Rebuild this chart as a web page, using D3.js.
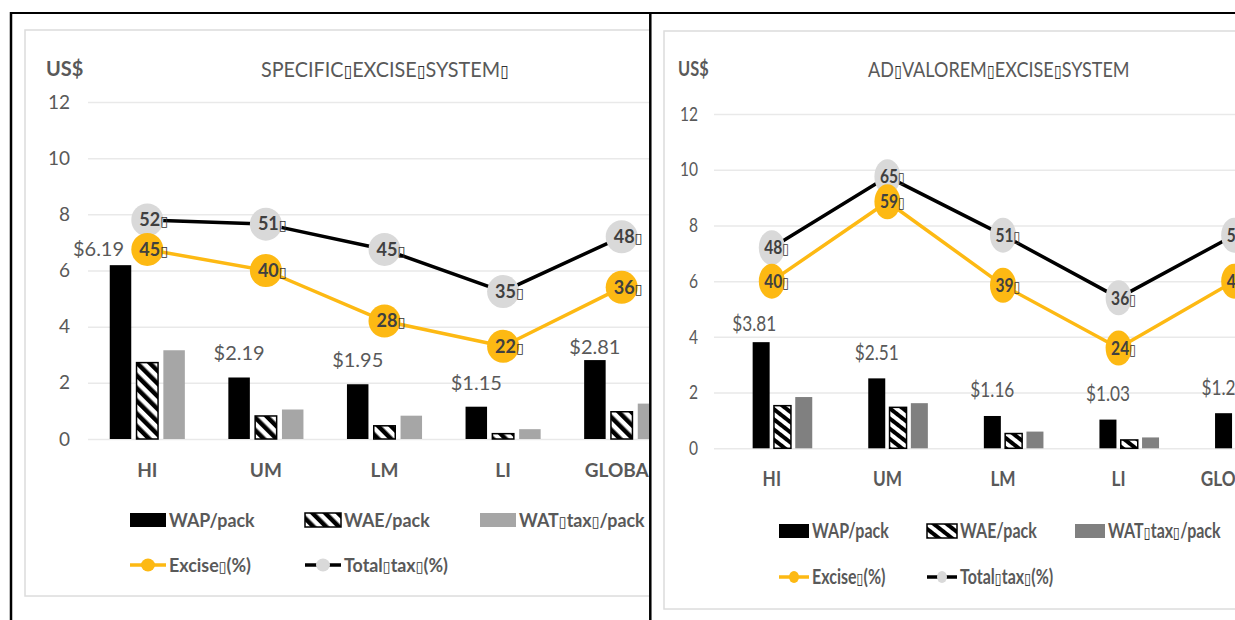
<!DOCTYPE html>
<html>
<head>
<meta charset="utf-8">
<script src="https://cdn.jsdelivr.net/npm/d3@7"></script>
<style>
  html, body { margin: 0; padding: 0; background: #fff; }
  svg { display: block; }
</style>
</head>
<body>
<script>
// ---- data ----
const categories = ["HI", "UM", "LM", "LI", "GLOBAL"];
const yTicks = [0, 2, 4, 6, 8, 10, 12];

// Specific excise system (US$ per pack, and tax shares in %)
const specificWAP = [6.19, 2.19, 1.95, 1.15, 2.81];
const specificWAE = [2.72, 0.82, 0.47, 0.19, 0.97];
const specificVAT = [3.16, 1.05, 0.83, 0.35, 1.26];
const specificExcisePct = [45, 40, 28, 22, 36];
const specificTotalPct = [52, 51, 45, 35, 48];

// Ad valorem excise system
const adValoremWAP = [3.81, 2.51, 1.16, 1.03, 1.26];
const adValoremWAE = [1.53, 1.47, 0.53, 0.30, 0.55];
const adValoremVAT = [1.84, 1.62, 0.60, 0.39, 0.66];
const adValoremExcisePct = [40, 59, 39, 24, 40];
const adValoremTotalPct = [48, 65, 51, 36, 51];

const seriesNames = ["WAP/pack", "WAE/pack", "WAT\u25AFtax\u25AF/pack", "Excise\u25AF(%)", "Total\u25AFtax\u25AF(%)"];

// ---- styling ----
const FONT = "Lato, 'DejaVu Sans', sans-serif";
const TEXT_GREY = "#595959";
const LABEL_DARK = "#404040";
const ORANGE = "#FDB913";
const MARKER_GREY = "#D9D9D9";
const GRID = "#E9E9E9";
const TOFU = "\u25AF";

const W = 1235, H = 620;
const svg = d3.select("body").append("svg")
  .attr("width", W).attr("height", H)
  .style("font-family", FONT);
const defs = svg.append("defs");

function hatch(id, angle, size) {
  const p = defs.append("pattern").attr("id", id)
    .attr("patternUnits", "userSpaceOnUse")
    .attr("width", size).attr("height", size)
    .attr("patternTransform", `rotate(${angle})`);
  p.append("rect").attr("width", size).attr("height", size).attr("fill", "#fff");
  p.append("rect").attr("width", size / 2).attr("height", size).attr("fill", "#000");
}
hatch("hatchL", -45, 9);
hatch("hatchR", -52, 8);

// text helper: horizontally scaled text; the box glyph is drawn in a fallback font
function txt(parent, x, y, str, o = {}) {
  const g = parent.append("g")
    .attr("transform", `translate(${x},${y}) scale(${o.sx ?? 1},1)`);
  const t = g.append("text")
    .attr("text-anchor", o.anchor || "start")
    .attr("dy", "0.35em")
    .attr("font-size", o.size || 16)
    .attr("font-weight", o.weight || "normal")
    .attr("fill", o.fill || TEXT_GREY);
  str.split(/(\u25AF)/).filter(s => s.length).forEach(part => {
    const ts = t.append("tspan").text(part);
    if (part === TOFU) {
      ts.attr("font-family", "'DejaVu Sans'").attr("font-weight", "normal")
        .attr("font-size", (o.size || 16) * 0.8).attr("fill", "#333");
    }
  });
  return t;
}

// frame lines
svg.append("line").attr("x1", 11).attr("x2", 11).attr("y1", 12).attr("y2", H)
  .attr("stroke", "#000").attr("stroke-width", 2.5);
svg.append("line").attr("x1", 10).attr("x2", W).attr("y1", 13).attr("y2", 13)
  .attr("stroke", "#000").attr("stroke-width", 2.2);

function drawPanel(cfg) {
  const root = svg.append("g");
  if (cfg.clipRight) {
    defs.append("clipPath").attr("id", cfg.id + "clip")
      .append("rect").attr("x", 0).attr("y", 0).attr("width", cfg.clipRight).attr("height", H);
    root.attr("clip-path", `url(#${cfg.id}clip)`);
  }

  // chart area border
  root.append("rect")
    .attr("x", cfg.box[0]).attr("y", cfg.box[1])
    .attr("width", cfg.box[2] - cfg.box[0]).attr("height", cfg.box[3] - cfg.box[1])
    .attr("fill", "#fff").attr("stroke", "#DCDCDC").attr("stroke-width", 1.5);

  const x = d3.scaleBand().domain(categories)
    .range([cfg.plotLeft, cfg.plotLeft + cfg.band * categories.length]).padding(0);
  const y = d3.scaleLinear().domain([0, 12]).range([cfg.yZero, cfg.yTop]);
  const yPct = d3.scaleLinear().domain([0, 80]).range([cfg.yZero, cfg.yTop]);

  // gridlines + tick labels
  const yAxis = root.append("g")
    .attr("transform", `translate(${cfg.plotLeft},0)`)
    .call(d3.axisLeft(y).tickValues(yTicks).tickSize(-(W - cfg.plotLeft)).tickFormat(""));
  yAxis.select(".domain").remove();
  yAxis.selectAll(".tick line").attr("stroke", GRID).attr("stroke-width", 1.5);
  yTicks.forEach(v => txt(root, cfg.tickRight, y(v), String(v),
    { anchor: "end", size: cfg.tickSize, sx: cfg.sx }));

  // titles
  txt(root, cfg.unitX, cfg.titleY, "US$", { size: cfg.unitSize, weight: "bold", sx: cfg.sx });
  txt(root, cfg.titleX, cfg.titleY, cfg.title, { size: cfg.titleSize, sx: cfg.titleSx, fill: TEXT_GREY });

  // bars
  const bars = [
    { vals: cfg.wap, fill: "#000", stroke: "none" },
    { vals: cfg.wae, fill: `url(#${cfg.hatch})`, stroke: "#000" },
    { vals: cfg.vat, fill: cfg.vatColor, stroke: "none" }
  ];
  const nSlots = cfg.slots;
  bars.forEach((s, i) => {
    const slot = i + cfg.slotStart;
    const off = (slot - (nSlots - 1) / 2) * cfg.pitch;
    root.append("g").selectAll("rect").data(categories).join("rect")
      .attr("x", d => x(d) + x.bandwidth() / 2 + off - cfg.barW / 2)
      .attr("y", (d, k) => y(s.vals[k]))
      .attr("width", cfg.barW)
      .attr("height", (d, k) => y(0) - y(s.vals[k]))
      .attr("fill", s.fill)
      .attr("stroke", s.stroke)
      .attr("stroke-width", s.stroke === "none" ? 0 : 1.5);
  });

  // WAP value labels
  const wapOff = (cfg.slotStart - (nSlots - 1) / 2) * cfg.pitch;
  categories.forEach((c, k) => {
    const n = cfg.nudge[c] || {};
    const cx = x(c) + x.bandwidth() / 2 + wapOff + (n.dx || 0);
    const cy = y(cfg.wap[k]) - (n.above ?? cfg.labelAbove);
    txt(root, cx, cy, "$" + cfg.wap[k].toFixed(2),
      { anchor: "middle", size: cfg.valSize, sx: cfg.sx });
  });

  // lines with markers (total first, excise on top)
  const lineSeries = [
    { vals: cfg.total, stroke: "#000", marker: MARKER_GREY },
    { vals: cfg.excise, stroke: ORANGE, marker: ORANGE }
  ];
  const line = d3.line().x((d, k) => x(categories[k]) + x.bandwidth() / 2).y(d => yPct(d));
  lineSeries.forEach(s => {
    root.append("path").datum(s.vals).attr("d", line)
      .attr("fill", "none").attr("stroke", s.stroke).attr("stroke-width", 3.5)
      .attr("stroke-linejoin", "round");
    root.append("g").selectAll("ellipse").data(s.vals).join("ellipse")
      .attr("cx", (d, k) => x(categories[k]) + x.bandwidth() / 2)
      .attr("cy", d => yPct(d))
      .attr("rx", cfg.markerRx).attr("ry", cfg.markerRy)
      .attr("fill", s.marker);
  });
  lineSeries.forEach(s => {
    s.vals.forEach((v, k) => {
      txt(root, x(categories[k]) + x.bandwidth() / 2 - cfg.pctShift, yPct(v), v + TOFU,
        { size: cfg.pctSize, weight: "bold", fill: LABEL_DARK, sx: cfg.sx });
    });
  });

  // category labels
  categories.forEach(c => {
    txt(root, x(c) + x.bandwidth() / 2, cfg.catY, c,
      { anchor: "middle", size: cfg.catSize, weight: "bold", sx: cfg.sx });
  });

  // legend
  const L = cfg.legend;
  const sw = L.swatchW, sh = L.swatchH;
  const legendBars = [
    { fill: "#000", stroke: "none" },
    { fill: `url(#${cfg.hatch})`, stroke: "#000" },
    { fill: cfg.vatColor, stroke: "none" }
  ];
  legendBars.forEach((b, i) => {
    root.append("rect").attr("x", L.cols[i]).attr("y", L.row1 - sh / 2)
      .attr("width", sw).attr("height", sh)
      .attr("fill", b.fill).attr("stroke", b.stroke).attr("stroke-width", b.stroke === "none" ? 0 : 1.5);
    txt(root, L.cols[i] + sw + L.gap, L.row1, seriesNames[i],
      { size: L.size, weight: "bold", sx: L.sx });
  });
  const legendLines = [
    { stroke: ORANGE, marker: ORANGE, name: seriesNames[3] },
    { stroke: "#000", marker: MARKER_GREY, name: seriesNames[4] }
  ];
  legendLines.forEach((s, i) => {
    const x0 = L.cols[i];
    root.append("line").attr("x1", x0).attr("x2", x0 + sw)
      .attr("y1", L.row2).attr("y2", L.row2)
      .attr("stroke", s.stroke).attr("stroke-width", 3.5);
    root.append("ellipse").attr("cx", x0 + sw / 2).attr("cy", L.row2)
      .attr("rx", L.mrx).attr("ry", L.mry).attr("fill", s.marker);
    txt(root, x0 + sw + L.gap, L.row2, s.name, { size: L.size, weight: "bold", sx: L.sx });
  });
}

drawPanel({
  id: "specific", clipRight: 649,
  box: [25, 30, 700, 596],
  plotLeft: 88, band: 118.6, yZero: 439, yTop: 102,
  slots: 3, slotStart: 0, pitch: 26.8, barW: 21.5,
  hatch: "hatchL", vatColor: "#A6A6A6",
  wap: specificWAP, wae: specificWAE, vat: specificVAT,
  excise: specificExcisePct, total: specificTotalPct,
  title: "SPECIFIC" + TOFU + "EXCISE" + TOFU + "SYSTEM" + TOFU,
  titleX: 261, titleY: 69, titleSize: 22, titleSx: 0.9,
  unitX: 46, unitSize: 20,
  tickRight: 70, tickSize: 19,
  sx: 1, valSize: 20, labelAbove: 24, nudge: { HI: { dx: -22, above: 16 }, GLOBAL: { above: 13 } },
  markerRx: 16, markerRy: 16.5, pctShift: 8, pctSize: 18,
  catY: 470, catSize: 19,
  legend: { cols: [130, 305, 480], row1: 520, row2: 565, swatchW: 36, swatchH: 14, gap: 3, size: 19, sx: 0.94, mrx: 7, mry: 6.5 }
});

// divider between the two panels
svg.append("line").attr("x1", 650.3).attr("x2", 650.3).attr("y1", 12).attr("y2", H)
  .attr("stroke", "#000").attr("stroke-width", 2.5);

drawPanel({
  id: "advalorem", clipRight: null,
  box: [664, 31, 1300, 609],
  plotLeft: 714, band: 115.6, yZero: 448.3, yTop: 114,
  slots: 4, slotStart: 1, pitch: 21.3, barW: 17,
  hatch: "hatchR", vatColor: "#808080",
  wap: adValoremWAP, wae: adValoremWAE, vat: adValoremVAT,
  excise: adValoremExcisePct, total: adValoremTotalPct,
  title: "AD" + TOFU + "VALOREM" + TOFU + "EXCISE" + TOFU + "SYSTEM",
  titleX: 868, titleY: 69, titleSize: 22, titleSx: 0.82,
  unitX: 678, unitSize: 20,
  tickRight: 698, tickSize: 19,
  sx: 0.82, valSize: 21, labelAbove: 26, nudge: { HI: { dx: -7, above: 19 } },
  markerRx: 13, markerRy: 17.5, pctShift: 7.5, pctSize: 19,
  catY: 479, catSize: 21,
  legend: { cols: [779, 927, 1075], row1: 531, row2: 577, swatchW: 30, swatchH: 14, gap: 3, size: 20, sx: 0.8, mrx: 5, mry: 6 }
});
</script>
</body>
</html>
